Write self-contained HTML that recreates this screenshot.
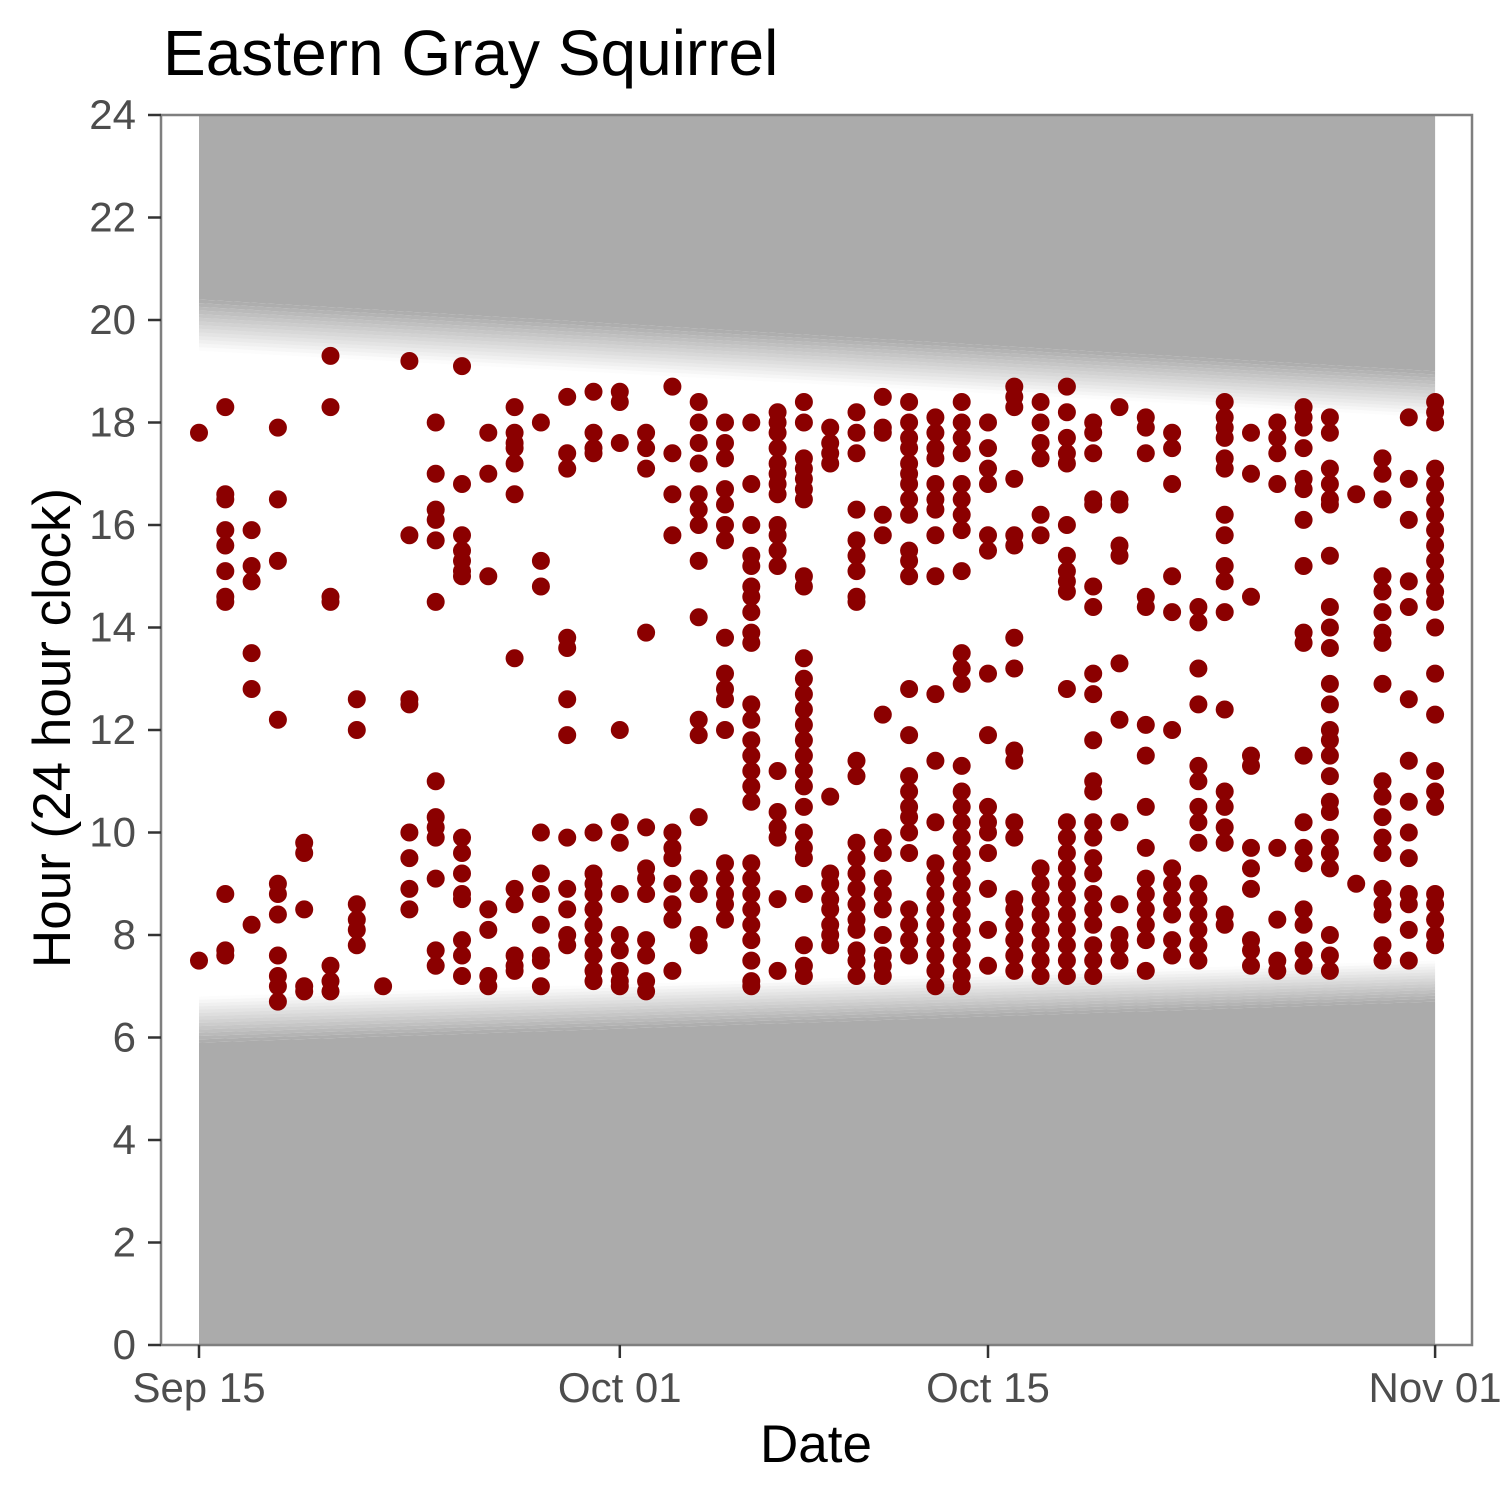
<!DOCTYPE html>
<html><head><meta charset="utf-8"><style>
html,body{margin:0;padding:0;background:#fff;}
svg text{font-family:"Liberation Sans",Arial,sans-serif;}
</style></head><body>
<svg id="chart" width="1500" height="1500" viewBox="0 0 1500 1500" xmlns="http://www.w3.org/2000/svg">
<rect x="0" y="0" width="1500" height="1500" fill="#fff"/>
<g id="shade"></g>
<g id="points"></g>
<rect x="161" y="115" width="1311" height="1230" fill="none" stroke="#7f7f7f" stroke-width="2.5"/>
<g id="yaxis"></g>
<g id="xaxis"></g>
<text x="163" y="75" font-size="64" fill="#000">Eastern Gray Squirrel</text>
<text x="816" y="1462" font-size="53" text-anchor="middle" fill="#000">Date</text>
<text transform="translate(70,728) rotate(-90)" font-size="53" text-anchor="middle" fill="#000">Hour (24 hour clock)</text>
</svg>
<script>
const yTicks=[0,2,4,6,8,10,12,14,16,18,20,22,24];
const xTickDays=[0,16,30,47];
const xTickLabels=["Sep 15","Oct 01","Oct 15","Nov 01"];
const dusk=[20.4,19.4,19.0,18.1];
const dawn=[5.9,6.8,6.7,7.5];
const days=[0,1,2,3,4,5,6,7,8,9,10,11,12,13,14,15,16,17,18,19,20,21,22,23,24,25,26,27,28,29,30,31,32,33,34,35,36,37,38,39,40,41,42,43,44,45,46,47];
const hours=[
[17.8,7.5],
[18.3,16.6,16.5,15.9,15.6,15.1,14.6,14.5,8.8,7.7,7.6],
[15.9,15.2,14.9,13.5,12.8,8.2],
[17.9,16.5,15.3,12.2,9.0,8.8,8.4,7.6,7.2,7.0,6.7],
[9.8,9.6,8.5,7.0,6.9],
[19.3,18.3,14.6,14.5,7.4,7.1,6.9],
[12.6,12.0,8.6,8.3,8.1,7.8],
[7.0],
[19.2,15.8,12.6,12.5,10.0,9.5,8.9,8.5],
[18.0,17.0,16.3,16.1,15.7,14.5,11.0,10.3,10.1,9.9,9.1,7.7,7.4],
[19.1,16.8,15.8,15.5,15.3,15.1,15.0,9.9,9.6,9.2,8.8,8.7,7.9,7.6,7.2],
[17.8,17.0,15.0,8.5,8.1,7.2,7.0],
[18.3,17.8,17.6,17.5,17.2,16.6,13.4,8.9,8.6,7.6,7.4,7.3],
[18.0,15.3,14.8,10.0,9.2,8.8,8.2,7.6,7.5,7.0],
[18.5,17.4,17.1,13.8,13.6,12.6,11.9,9.9,8.9,8.5,8.0,7.8],
[18.6,17.8,17.5,17.4,10.0,9.2,9.0,8.8,8.5,8.2,7.9,7.6,7.3,7.1],
[18.6,18.4,17.6,12.0,10.2,9.8,8.8,8.0,7.7,7.3,7.1,7.0],
[17.8,17.5,17.1,13.9,10.1,9.3,9.1,8.8,7.9,7.6,7.1,6.9],
[18.7,17.4,16.6,15.8,10.0,9.7,9.5,9.0,8.6,8.3,7.3],
[18.4,18.0,17.6,17.2,16.6,16.3,16.0,15.3,14.2,12.2,11.9,10.3,9.1,8.8,8.0,7.8],
[18.0,17.6,17.3,16.7,16.4,16.0,15.7,13.8,13.1,12.8,12.6,12.0,9.4,9.1,8.8,8.6,8.3],
[18.0,16.8,16.0,15.4,15.2,14.8,14.6,14.3,13.9,13.7,12.5,12.2,11.8,11.5,11.2,10.9,10.6,9.4,9.1,8.8,8.5,8.2,7.9,7.5,7.1,7.0],
[18.2,18.0,17.8,17.5,17.2,17.0,16.8,16.6,16.0,15.8,15.5,15.2,11.2,10.4,10.1,9.9,8.7,7.3],
[18.4,18.0,17.3,17.1,16.9,16.7,16.5,15.0,14.8,13.4,13.0,12.7,12.4,12.1,11.8,11.5,11.2,10.9,10.5,10.0,9.7,9.5,8.8,7.8,7.4,7.2],
[17.9,17.6,17.4,17.2,10.7,9.2,9.0,8.7,8.5,8.2,8.0,7.8],
[18.2,17.8,17.4,16.3,15.7,15.4,15.1,14.6,14.5,11.4,11.1,9.8,9.5,9.2,8.9,8.6,8.3,8.1,7.7,7.5,7.2],
[18.5,17.9,17.8,16.2,15.8,12.3,9.9,9.6,9.1,8.8,8.5,8.0,7.6,7.4,7.2],
[18.4,18.0,17.7,17.5,17.2,17.0,16.8,16.5,16.2,15.5,15.3,15.0,12.8,11.9,11.1,10.8,10.5,10.3,10.0,9.6,8.5,8.2,7.9,7.6],
[18.1,17.8,17.5,17.3,16.8,16.5,16.3,15.8,15.0,12.7,11.4,10.2,9.4,9.1,8.8,8.5,8.2,7.9,7.6,7.3,7.0],
[18.4,18.0,17.7,17.4,16.8,16.5,16.2,15.9,15.1,13.5,13.2,12.9,11.3,10.8,10.5,10.2,9.9,9.6,9.3,9.0,8.7,8.4,8.1,7.8,7.5,7.2,7.0],
[18.0,17.5,17.1,16.8,15.8,15.5,13.1,11.9,10.5,10.2,10.0,9.6,8.9,8.1,7.4],
[18.7,18.5,18.3,16.9,15.8,15.6,13.8,13.2,11.6,11.4,10.2,9.9,8.7,8.5,8.2,7.9,7.6,7.3],
[18.4,18.0,17.6,17.3,16.2,15.8,9.3,9.0,8.7,8.4,8.1,7.8,7.5,7.2],
[18.7,18.2,17.7,17.4,17.2,16.0,15.4,15.1,14.9,14.7,12.8,10.2,9.9,9.6,9.3,9.0,8.7,8.4,8.1,7.8,7.5,7.2],
[18.0,17.8,17.4,16.5,16.4,14.8,14.4,13.1,12.7,11.8,11.0,10.8,10.2,9.9,9.5,9.2,8.8,8.5,8.2,7.8,7.5,7.2],
[18.3,16.5,16.4,15.6,15.4,13.3,12.2,10.2,8.6,8.0,7.8,7.5],
[18.1,17.9,17.4,14.6,14.4,12.1,11.5,10.5,9.7,9.1,8.8,8.5,8.2,7.9,7.3],
[17.8,17.5,16.8,15.0,14.3,12.0,9.3,9.0,8.7,8.4,7.9,7.6],
[14.4,14.1,13.2,12.5,11.3,11.0,10.5,10.2,9.8,9.0,8.7,8.4,8.1,7.8,7.5],
[18.4,18.1,17.9,17.7,17.3,17.1,16.2,15.8,15.2,14.9,14.3,12.4,10.8,10.5,10.1,9.8,8.4,8.2],
[17.8,17.0,14.6,11.5,11.3,9.7,9.3,8.9,7.9,7.7,7.4],
[18.0,17.7,17.4,16.8,9.7,8.3,7.5,7.3],
[18.3,18.1,17.9,17.5,16.9,16.7,16.1,15.2,13.9,13.7,11.5,10.2,9.7,9.4,8.5,8.2,7.7,7.4],
[18.1,17.8,17.1,16.8,16.5,16.4,15.4,14.4,14.0,13.6,12.9,12.5,12.0,11.8,11.5,11.1,10.6,10.4,9.9,9.6,9.3,8.0,7.6,7.3],
[16.6,9.0],
[17.3,17.0,16.5,15.0,14.7,14.3,13.9,13.7,12.9,11.0,10.7,10.3,9.9,9.6,8.9,8.6,8.4,7.8,7.5],
[18.1,16.9,16.1,14.9,14.4,12.6,11.4,10.6,10.0,9.5,8.8,8.6,8.1,7.5],
[18.4,18.2,18.0,17.1,16.8,16.5,16.2,15.9,15.6,15.3,15.0,14.7,14.5,14.0,13.1,12.3,11.2,10.8,10.5,8.8,8.6,8.3,8.0,7.8]
];
const NS="http://www.w3.org/2000/svg";
const X0=199,PX_DAY=26.3,Y0=1345,PX_H=51.25,XMIN=0,XMAX=47;
function xs(d){return X0+d*PX_DAY;}
function ys(h){return Y0-h*PX_H;}
function mk(t,a,p){const e=document.createElementNS(NS,t);for(const k in a)e.setAttribute(k,a[k]);p.appendChild(e);return e;}
const shade=document.getElementById('shade');
const xa=xs(XMIN),xb=xs(XMAX),GRAY="#ababab";
let r=mk('polygon',{points:`${xa},${ys(24)} ${xb},${ys(24)} ${xb},${ys(dusk[2])} ${xa},${ys(dusk[0])}`,fill:GRAY},shade);


r=mk('polygon',{points:`${xa},${ys(0)} ${xb},${ys(0)} ${xb},${ys(dawn[2])} ${xa},${ys(dawn[0])}`,fill:GRAY},shade);


const N=14;
function band(a0,a1,b0,b1,name){
  for(let i=0;i<N;i++){
    const t0=i/N,t1=(i+1)/N;
    const la0=a0+(a1-a0)*t0,la1=a0+(a1-a0)*t1,lb0=b0+(b1-b0)*t0,lb1=b0+(b1-b0)*t1;
    const op=1-(i+0.5)/N;
    const p=mk('polygon',{points:`${xa},${ys(la0)} ${xb},${ys(lb0)} ${xb},${ys(lb1)} ${xa},${ys(la1)}`,fill:GRAY,'fill-opacity':op.toFixed(3)},shade);
    
    
  }
}
band(dusk[0],dusk[1],dusk[2],dusk[3],'dusk-gradient');
band(dawn[0],dawn[1],dawn[2],dawn[3],'dawn-gradient');
const pts=document.getElementById('points');
days.forEach((d,i)=>{hours[i].forEach(h=>{
  const c=mk('circle',{cx:xs(d),cy:ys(h),r:9,fill:'#8b0000'},pts);
  
  
});});
const ya=document.getElementById('yaxis');
yTicks.forEach(v=>{
  const l=mk('line',{x1:148,x2:161,y1:ys(v),y2:ys(v),stroke:'#333',"stroke-width":2.5},ya);
  
  
  const t=mk('text',{x:136,y:ys(v)+14,'font-size':42,'text-anchor':'end',fill:'#4d4d4d'},ya);
  t.textContent=v;
  
  
});
const xaxis=document.getElementById('xaxis');
xTickDays.forEach((d,i)=>{
  const l=mk('line',{x1:xs(d),x2:xs(d),y1:1345,y2:1358,stroke:'#333',"stroke-width":2.5},xaxis);
  
  
  const t=mk('text',{x:xs(d),y:1402,'font-size':42,'text-anchor':'middle',fill:'#4d4d4d'},xaxis);
  t.textContent=xTickLabels[i];
  
  
});
</script>
</body></html>
